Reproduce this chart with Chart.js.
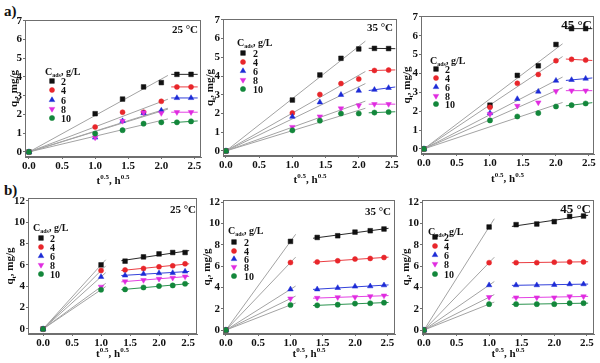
<!DOCTYPE html>
<html><head><meta charset="utf-8">
<script src="https://cdn.jsdelivr.net/npm/chart.js"></script>
<style>
html,body{margin:0;padding:0;width:600px;height:363px;overflow:hidden;background:#fff;position:relative;}
canvas{position:absolute;}
.lbl{position:absolute;font:bold 15px "Liberation Serif",serif;color:#111;line-height:18px;}
</style></head><body>
<div class="lbl" style="left:4px;top:2px">a)</div>
<div class="lbl" style="left:4px;top:181px">b)</div>
<script>
// ---- data ----
const hours = [0, 1, 2, 3, 4, 5, 6];                 // contact time, h
const sqrtHours = hours.map(h => Math.sqrt(h));      // t^0.5
const dosageLabels = ['2', '4', '6', '8', '10'];     // C_ads, g/L
const tempLabels = ['25 °C', '35 °C', '45 °C'];

// panel a) : q_t (mg/g), one row per dosage 2,4,6,8,10
const qA25 = [
  [0, 2.04, 2.82, 3.47, 3.70, 4.14, 4.14],
  [0, 1.33, 2.12, 2.12, 2.70, 3.47, 3.47],
  [0, 0.77, 1.65, 2.07, 2.21, 2.88, 2.88],
  [0, 0.77, 1.65, 2.10, 2.07, 2.12, 2.12],
  [0, 0.98, 1.16, 1.51, 1.58, 1.58, 1.63]
];
const qA35 = [
  [0, 2.72, 4.06, 4.95, 5.45, 5.48, 5.47],
  [0, 2.03, 3.02, 3.60, 3.84, 4.30, 4.32],
  [0, 1.83, 2.60, 3.00, 3.22, 3.27, 3.37],
  [0, 1.28, 1.84, 2.27, 2.43, 2.50, 2.50],
  [0, 1.10, 1.62, 2.00, 2.00, 2.05, 2.08]
];
const qA45 = [
  [0, 2.32, 3.90, 4.41, 5.54, 6.38, 6.38],
  [0, 2.21, 3.48, 3.95, 4.68, 4.75, 4.71],
  [0, 1.90, 2.65, 3.04, 3.62, 3.66, 3.73],
  [0, 1.85, 2.28, 2.46, 3.06, 3.09, 3.09],
  [0, 1.51, 1.72, 1.90, 2.25, 2.32, 2.41]
];
// panel b)
const qB25 = [
  [0, 6.01, 6.36, 6.76, 7.04, 7.17, 7.17],
  [0, 5.48, 5.54, 5.67, 5.83, 5.92, 6.11],
  [0, 4.89, 5.02, 5.17, 5.23, 5.26, 5.39],
  [0, 3.96, 4.46, 4.58, 4.70, 4.80, 4.92],
  [0, 3.68, 3.71, 3.89, 4.02, 4.08, 4.24]
];
const qB35 = [
  [0, 8.31, 8.68, 8.84, 9.18, 9.31, 9.47],
  [0, 6.33, 6.39, 6.49, 6.65, 6.71, 6.80],
  [0, 3.82, 3.82, 3.95, 4.08, 4.11, 4.20],
  [0, 2.95, 3.01, 3.07, 3.10, 3.17, 3.23],
  [0, 2.35, 2.32, 2.38, 2.48, 2.51, 2.57]
];
const qB45 = [
  [0, 9.66, 9.88, 9.94, 10.16, 10.65, 10.69],
  [0, 6.32, 6.32, 6.32, 6.36, 6.39, 6.39],
  [0, 4.21, 4.21, 4.21, 4.24, 4.30, 4.30],
  [0, 3.08, 3.05, 3.05, 3.05, 3.15, 3.15],
  [0, 2.43, 2.43, 2.43, 2.43, 2.52, 2.52]
];

// ---- styles ----
const COLORS = ['#111111', '#e8262b', '#1c2bd6', '#e02ce0', '#13873b'];
const STYLES = ['rect', 'circle', 'triangle', 'triangle', 'circle'];
const ROTS = [0, 0, 0, 180, 0];
const RADII = [3.3, 2.5, 3.2, 3.2, 2.6];
const FIT_GRAY = '#a3a3a3';
const FAMILY = '"Liberation Serif","Times New Roman",serif';

// ---- fitting helpers (derived from data) ----
function fitOrigin(xs, ys) {
  let sxy = 0, sxx = 0;
  xs.forEach((x, i) => { sxy += x * ys[i]; sxx += x * x; });
  return sxx ? sxy / sxx : 0;
}
function fitLinear(xs, ys) {
  const n = xs.length;
  const mx = xs.reduce((a, b) => a + b, 0) / n, my = ys.reduce((a, b) => a + b, 0) / n;
  let sxy = 0, sxx = 0;
  xs.forEach((x, i) => { sxy += (x - mx) * (ys[i] - my); sxx += (x - mx) * (x - mx); });
  const b = sxx ? sxy / sxx : 0;
  return { a: my - b * mx, b };
}

// ---- layout per panel ----
const panels = [
  {q: qA25, stage: 'a', L: 25,  T: 20,  R: 201, B: 157, xr: [-0.06, 2.6],   yr: [-0.27, 7.04],  ys: 1, temp: tempLabels[0], tp: [198, 29, 11], lg: [45, 71, 52, 61, [81, 90, 100, 109, 118]], yto: 12, xto: 23},
  {q: qA35, stage: 'a', L: 223, T: 19,  R: 397, B: 156, xr: [-0.045, 2.576], yr: [-0.27, 7.05], ys: 1, temp: tempLabels[1], tp: [393, 27, 11], lg: [237, 42, 243, 253, [53, 62, 71, 80, 89]], yto: 14, xto: 23},
  {q: qA45, stage: 'a', L: 421, T: 16,  R: 594, B: 154, xr: [-0.045, 2.576], yr: [-0.27, 7.05], ys: 1, temp: tempLabels[2], tp: [592, 24, 13], lg: [430, 60, 436, 445, [69, 78, 87, 96, 104]], yto: 15, xto: 24},
  {q: qB25, stage: 'b', L: 28,  T: 198, R: 197, B: 334, xr: [-0.26, 2.655], yr: [-0.47, 12.28], ys: 2, temp: tempLabels[0], tp: [196, 209, 11], lg: [33, 227, 41, 50, [238, 247, 256, 265, 274]], yto: 19, xto: 19},
  {q: qB35, stage: 'b', L: 223, T: 200, R: 395, B: 334, xr: [-0.046, 2.62], yr: [-0.37, 12.19], ys: 2, temp: tempLabels[1], tp: [391, 211, 11], lg: [228, 230, 234, 244, [242, 251, 259, 267, 276]], yto: 17, xto: 19},
  {q: qB45, stage: 'b', L: 422, T: 200, R: 594, B: 334, xr: [-0.03, 2.61],  yr: [-0.37, 12.19], ys: 2, temp: tempLabels[2], tp: [591, 208, 13], lg: [428, 231, 435, 444, [237, 246, 255, 264, 274]], yto: 17, xto: 19}
];

function font(size, italic) { return (italic ? 'italic ' : '') + 'bold ' + size + 'px ' + FAMILY; }
function drawRich(ctx, parts, x, y, size, align) {
  const small = Math.round(size * 0.62);
  let w = 0;
  parts.forEach(p => { ctx.font = font(p[1] ? small : size); w += ctx.measureText(p[0]).width; });
  let cx = align === 'center' ? x - w / 2 : align === 'right' ? x - w : x;
  const base = y + size * 0.35;
  ctx.textAlign = 'left'; ctx.textBaseline = 'alphabetic';
  parts.forEach(p => {
    ctx.font = font(p[1] ? small : size);
    const dy = p[1] === 'sub' ? size * 0.28 : p[1] === 'sup' ? -size * 0.42 : 0;
    ctx.fillText(p[0], cx, base + dy);
    cx += ctx.measureText(p[0]).width;
  });
}
function drawMarker(ctx, i, x, y) {
  const r = RADII[i];
  ctx.save();
  ctx.fillStyle = COLORS[i]; ctx.strokeStyle = COLORS[i]; ctx.lineWidth = 0.5;
  ctx.translate(x, y);
  ctx.beginPath();
  if (STYLES[i] === 'rect') { const s = r * Math.SQRT1_2; ctx.rect(-s, -s, 2 * s, 2 * s); }
  else if (STYLES[i] === 'circle') { ctx.arc(0, 0, r, 0, Math.PI * 2); }
  else {
    let rad = ROTS[i] * Math.PI / 180;
    ctx.moveTo(Math.sin(rad) * r, -Math.cos(rad) * r);
    rad += 2 * Math.PI / 3; ctx.lineTo(Math.sin(rad) * r, -Math.cos(rad) * r);
    rad += 2 * Math.PI / 3; ctx.lineTo(Math.sin(rad) * r, -Math.cos(rad) * r);
    ctx.closePath();
  }
  ctx.fill(); ctx.stroke();
  ctx.restore();
}

const decoPlugin = {
  id: 'deco',
  afterDraw(chart) {
    const p = chart.options.plugins.deco;
    const ctx = chart.ctx, a = chart.chartArea;
    const ox = p.ox, oy = p.oy;
    ctx.save();
    // frame
    ctx.strokeStyle = '#6f6f6f'; ctx.lineWidth = 1;
    ctx.strokeRect(Math.round(a.left) + 0.5, Math.round(a.top) + 0.5, Math.round(a.right - a.left) - 1, Math.round(a.bottom - a.top) - 1);
    ctx.fillStyle = '#111';
    // temperature label
    drawRich(ctx, [[p.temp, '']], p.tp[0] - ox, p.tp[1] - oy, p.tp[2], 'right');
    // legend
    const lg = p.lg;
    drawRich(ctx, [['C', ''], ['ads', 'sub'], [', g/L', '']], lg[0] - ox, lg[1] - oy, 10, 'left');
    dosageLabels.forEach((lab, i) => {
      drawMarker(ctx, i, lg[2] - ox, lg[4][i] - oy);
      ctx.fillStyle = '#111';
      drawRich(ctx, [[lab, '']], lg[3] - ox, lg[4][i] - oy, 10, 'left');
    });
    // x title
    drawRich(ctx, [['t', ''], ['0.5', 'sup'], [', h', ''], ['0.5', 'sup']], (a.left + a.right) / 2, a.bottom + p.xto, 11, 'center');
    // y title
    ctx.save();
    ctx.translate(a.left - p.yto, (a.top + a.bottom) / 2);
    ctx.rotate(-Math.PI / 2);
    drawRich(ctx, [['q', ''], ['t', 'sub'], [', mg/g', '']], 0, 0, 11, 'center');
    ctx.restore();
    ctx.restore();
  }
};

const PADL = 34, PADT = 18, PADR = 6, PADB = 36, YW = 22, XH = 16;

panels.forEach(pc => {
  const cv = document.createElement('canvas');
  const cl = pc.L - PADL, ct = pc.T - PADT;
  const cw = pc.R - pc.L + PADL + PADR, ch = pc.B - pc.T + PADT + PADB;
  cv.width = cw; cv.height = ch;
  cv.style.left = cl + 'px'; cv.style.top = ct + 'px';
  cv.style.width = cw + 'px'; cv.style.height = ch + 'px';
  document.body.appendChild(cv);

  const datasets = [];
  pc.q.forEach((ys, i) => {
    datasets.push({
      type: 'scatter', label: dosageLabels[i],
      data: sqrtHours.map((x, j) => ({x, y: ys[j]})),
      pointStyle: STYLES[i], rotation: ROTS[i], pointRadius: RADII[i],
      backgroundColor: COLORS[i], borderColor: COLORS[i], borderWidth: 0.5,
      showLine: false, order: 4 - i
    });
    let k1, e1, k2, e2;
    if (pc.stage === 'a') { k1 = [1, 2, 3, 4]; e1 = [0, 2.1]; k2 = [5, 6]; e2 = [2.15, 2.55]; }
    else { k1 = [1]; e1 = [0, 1.08]; k2 = [2, 3, 4, 5, 6]; e2 = [1.35, 2.52]; }
    const s1 = fitOrigin(k1.map(j => sqrtHours[j]), k1.map(j => ys[j]));
    const f2 = fitLinear(k2.map(j => sqrtHours[j]), k2.map(j => ys[j]));
    datasets.push({
      type: 'scatter', data: e1.map(x => ({x, y: s1 * x})),
      showLine: true, pointRadius: 0, borderColor: FIT_GRAY, borderWidth: 1, order: 10
    });
    datasets.push({
      type: 'scatter', data: e2.map(x => ({x, y: f2.a + f2.b * x})),
      showLine: true, pointRadius: 0, borderColor: COLORS[i], borderWidth: 0.9, order: 9
    });
  });

  const tickFont = {family: FAMILY, size: 11, weight: 'bold'};
  new Chart(cv, {
    type: 'scatter',
    data: {datasets},
    options: {
      responsive: false, animation: false, devicePixelRatio: 1,
      layout: {autoPadding: false, padding: {left: PADL - YW, top: PADT, right: PADR, bottom: PADB - XH}},
      plugins: {
        legend: {display: false}, tooltip: {enabled: false},
        deco: {ox: cl, oy: ct, temp: pc.temp, tp: pc.tp, lg: pc.lg, yto: pc.yto, xto: pc.xto}
      },
      scales: {
        x: {
          type: 'linear', min: pc.xr[0], max: pc.xr[1],
          afterFit: s => { s.height = XH; },
          grid: {drawOnChartArea: false, drawTicks: true, tickLength: 2, color: '#6f6f6f'},
          border: {color: '#6f6f6f', width: 1},
          ticks: {stepSize: 0.5, includeBounds: false, autoSkip: false, maxRotation: 0, padding: 1,
                  color: '#111', font: tickFont, callback: v => Number(v).toFixed(1)}
        },
        y: {
          type: 'linear', min: pc.yr[0], max: pc.yr[1],
          afterFit: s => { s.width = YW; },
          grid: {drawOnChartArea: false, drawTicks: true, tickLength: 2, color: '#6f6f6f'},
          border: {color: '#6f6f6f', width: 1},
          ticks: {stepSize: pc.ys, includeBounds: false, autoSkip: false, padding: 1,
                  color: '#111', font: tickFont, callback: v => String(Math.round(v))}
        }
      }
    },
    plugins: [decoPlugin]
  });
});
</script>
</body></html>
